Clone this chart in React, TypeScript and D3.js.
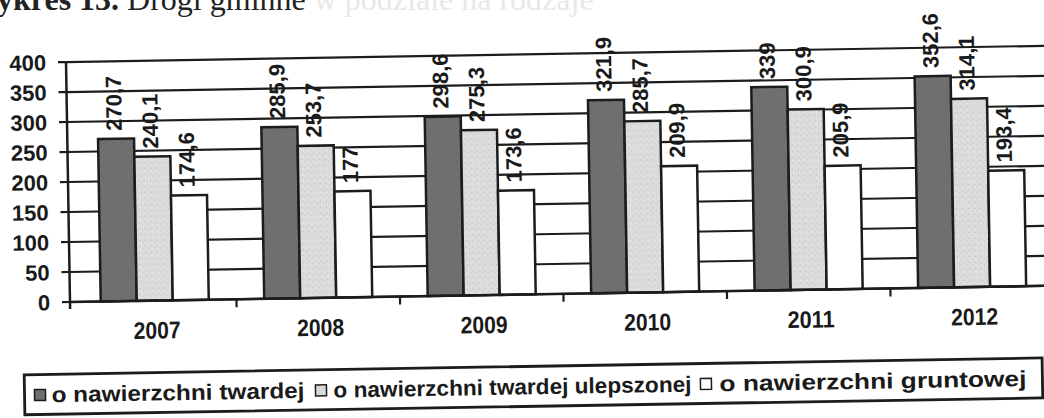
import React from 'react';
import * as d3 from 'd3';

const years = ['2007', '2008', '2009', '2010', '2011', '2012'];
const twardej = [270.7, 285.9, 298.6, 321.9, 339, 352.6];
const ulepszonej = [240.1, 253.7, 275.3, 285.7, 300.9, 314.1];
const gruntowej = [174.6, 177, 173.6, 209.9, 205.9, 193.4];
const seriesNames = ['o nawierzchni twardej', 'o nawierzchni twardej ulepszonej', 'o nawierzchni gruntowej'];
const yTicks = [0, 50, 100, 150, 200, 250, 300, 350, 400];

const fills = ['#6f6f6f', '#d9d9d9', '#ffffff'];
const ink = '#1c1c1c';

export default function App() {
  const W = 1044, H = 418;
  const axisX = 70, x0 = 73, step = 163.5;
  const x = d3.scaleBand<string>().domain(years).range([x0, x0 + step * years.length]).paddingInner(0).paddingOuter(0);
  const x1 = d3.scaleBand<number>().domain([0, 1, 2]).range([0, x.bandwidth()]).paddingInner(0).paddingOuter(0.77);
  const y = d3.scaleLinear().domain([0, 400]).range([302, 62]);
  const series = [twardej, ulepszonej, gruntowej];
  const fmt = (v: number) => String(v).replace('.', ',');
  const right = x0 + step * years.length;

  const legendItems = [
    { sq: 33, tx: 50, len: 253 },
    { sq: 314, tx: 332, len: 358 },
    { sq: 699, tx: 718, len: 307 },
  ];
  const legTop = 374;

  return (
    <svg width={W} height={H} style={{ position: 'absolute', left: 0, top: 0, background: '#fff' }}
      fontFamily="'Liberation Sans', Arial, sans-serif">
      <defs>
        <pattern id="speck" width="6" height="6" patternUnits="userSpaceOnUse">
          <rect width="6" height="6" fill="#dcdcdc" />
          <rect x="1" y="1" width="1" height="1" fill="#b8b8b8" />
          <rect x="4" y="3" width="1" height="1" fill="#c4c4c4" />
          <rect x="2" y="4" width="1" height="1" fill="#ececec" />
        </pattern>
      </defs>
      <text x={-3} y={10} fontFamily="'Liberation Serif', 'Times New Roman', serif" fontSize={32} fill="#222">
        <tspan fontWeight="bold">ykres 13.</tspan>
        <tspan> Drogi gminne</tspan>
        <tspan fill="#e8e8e8"> w podziale na rodzaje</tspan>
      </text>
      <g transform={`rotate(-0.95, ${axisX}, 302)`}>
        {yTicks.map(t => (
          <g key={t}>
            <line x1={axisX} x2={right} y1={y(t)} y2={y(t)} stroke={ink} strokeWidth={2.2} />
            <line x1={axisX - 8} x2={axisX} y1={y(t)} y2={y(t)} stroke={ink} strokeWidth={2.2} />
            <text x={50} y={y(t)} dy="0.36em" textAnchor="end" fontSize={22} fontWeight="bold" fill="#1a1a1a">{t}</text>
          </g>
        ))}
        {years.map((yr, i) => (
          <g key={yr} transform={`translate(${x(yr)},0)`}>
            {series.map((s, k) => (
              <rect key={k} x={x1(k)} y={y(s[i])} width={x1.bandwidth()} height={y(0) - y(s[i])}
                fill={k === 1 ? 'url(#speck)' : fills[k]} stroke={ink} strokeWidth={2.5} />
            ))}
          </g>
        ))}
        <line x1={axisX} x2={axisX} y1={y(400)} y2={y(0) + 7} stroke={ink} strokeWidth={2.5} />
        <line x1={axisX} x2={right} y1={y(0)} y2={y(0)} stroke={ink} strokeWidth={2.5} />
        {years.map(yr => (
          <line key={yr} x1={(x(yr) as number) + step} x2={(x(yr) as number) + step} y1={y(0)} y2={y(0) + 8} stroke={ink} strokeWidth={2.2} />
        ))}
        {years.map((yr, i) => series.map((s, k) => {
          const cx = (x(yr) as number) + (x1(k) as number) + x1.bandwidth() / 2 - 2;
          const ty = y(s[i]) - 8;
          return (
            <text key={yr + k} transform={`translate(${cx},${ty}) rotate(-90)`} dy="0.36em"
              fontSize={22} fontWeight="bold" fill="#1a1a1a">{fmt(s[i])}</text>
          );
        }))}
        {years.map(yr => (
          <text key={yr} x={(x(yr) as number) + step / 2 + 2} y={340} textAnchor="middle" fontSize={24}
            fontWeight="bold" fill="#1a1a1a" textLength={47} lengthAdjust="spacingAndGlyphs">{yr}</text>
        ))}
        <rect x={23} y={legTop} width={1018} height={40} fill="none" stroke={ink} strokeWidth={2.8} />
        {legendItems.map((it, k) => (
          <g key={k}>
            <rect x={it.sq} y={legTop + 15} width={11} height={11} fill={fills[k]} stroke={ink} strokeWidth={1.5} />
            <text x={it.tx} y={legTop + 20} dy="0.36em" fontSize={22} fontWeight="bold" fill="#1a1a1a"
              textLength={it.len} lengthAdjust="spacingAndGlyphs">{seriesNames[k]}</text>
          </g>
        ))}
      </g>
    </svg>
  );
}
